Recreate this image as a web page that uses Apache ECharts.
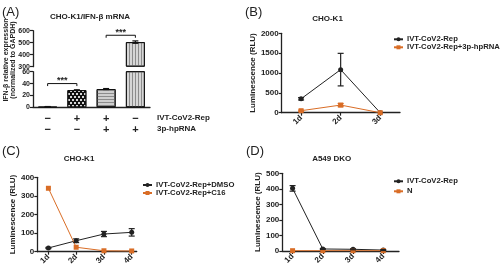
<!DOCTYPE html>
<html>
<head>
<meta charset="utf-8">
<script src="https://cdn.jsdelivr.net/npm/echarts@6/dist/echarts.min.js"></script>
<style>
  html, body { margin: 0; padding: 0; background: #fff; }
  #main { width: 500px; height: 268px; }
</style>
</head>
<body>
<div id="main"></div>
<script>
var FONT = 'Liberation Sans'
var INK = '#222'
var ORANGE = '#d96d26'

// (A) IFN-b mRNA bars
var aGroups = ['g1', 'g2', 'g3', 'g4']
var aSignRep = ['−', '+', '+', '−']
var aSign3p = ['−', '−', '+', '+']
var aValues = [1, 29, 30.8, 505]
var aErrors = [0.3, 0.5, 0.8, 10]
var aSigLevels = [40, 562] // bracket heights (lower grid, upper grid)

// (B) CHO-K1
var bDays = ['1d', '2d', '3d']
var bRep = [350, 1085, 0]
var bRepErr = [30, 410, 0]
var bRep3p = [50, 192, 0]
var bRep3pErr = [15, 40, 0]

// (C) CHO-K1, C16
var cDays = ['1d', '2d', '3d', '4d']
var cDmso = [20, 59, 95, 104]
var cDmsoErr = [3, 10, 14, 20]
var cC16 = [341, 24, 5, 4]

// (D) A549 DKO
var dDays = ['1d', '2d', '3d', '4d']
var dRep = [403, 13, 11, 6]
var dRepErr = [18, 3, 3, 3]
var dN = [2, 2, 2, 2]

var chart = echarts.init(document.getElementById('main'))

var lab = { fontSize: 8, fontWeight: 'bold', fontFamily: FONT, color: INK }

function valAxis (gi, min, max, interval, extra, size) {
  var ax = {
    type: 'value', gridIndex: gi, min: min, max: max, interval: interval,
    splitLine: { show: false },
    axisLine: { show: true, lineStyle: { color: INK, width: 1.3 } },
    axisTick: { show: true, length: 3, lineStyle: { color: INK, width: 1.2 } },
    axisLabel: Object.assign({}, lab, {
      margin: 3, fontSize: size || 8,
      formatter: function (v) { return String(v) }
    })
  }
  return Object.assign(ax, extra || {})
}

function dayAxis (gi, days, min, max) {
  var ticks = days.map(function (d, i) { return i + 1 })
  return {
    type: 'value', gridIndex: gi, min: min, max: max,
    splitLine: { show: false },
    axisLine: { lineStyle: { color: INK, width: 1.3 } },
    axisTick: { customValues: ticks, length: 3, lineStyle: { color: INK, width: 1.2 } },
    axisLabel: Object.assign({
      customValues: ticks, rotate: 45, margin: 4,
      formatter: function (v) { return days[Math.round(v) - 1] || '' }
    }, lab)
  }
}

function lumName (gap) {
  return {
    name: 'Luminescence (RLU)', nameLocation: 'middle', nameRotate: 90, nameGap: gap,
    nameTextStyle: lab
  }
}

function lineSeries (name, gi, vals, color, symbol) {
  return {
    name: name, type: 'line', xAxisIndex: gi, yAxisIndex: gi,
    data: vals.map(function (v, i) { return [i + 1, v] }),
    symbol: symbol, symbolSize: 5, z: 6,
    lineStyle: { color: color, width: 1 },
    itemStyle: { color: color }
  }
}

// x in data is the category index (bars) or the day number (lines)
function errSeries (gi, idx, vals, errs, color, w, base) {
  var data = []
  idx.forEach(function (i) { data.push([i + base, vals[i] - errs[i], vals[i] + errs[i]]) })
  return {
    type: 'custom', xAxisIndex: gi, yAxisIndex: gi, silent: true, z: 7,
    data: data,
    renderItem: function (params, api) {
      var lo = api.coord([api.value(0), api.value(1)])
      var hi = api.coord([api.value(0), api.value(2)])
      var st = { stroke: color, lineWidth: 1.2 }
      return {
        type: 'group',
        children: [
          { type: 'line', shape: { x1: lo[0], y1: lo[1], x2: hi[0], y2: hi[1] }, style: st },
          { type: 'line', shape: { x1: lo[0] - w, y1: lo[1], x2: lo[0] + w, y2: lo[1] }, style: st },
          { type: 'line', shape: { x1: hi[0] - w, y1: hi[1], x2: hi[0] + w, y2: hi[1] }, style: st }
        ]
      }
    }
  }
}

var barStyles = [
  { color: '#111' },
  { color: '#111', decal: { symbol: 'rect', color: '#d8d8d8', symbolSize: 1, dashArrayX: [[1.5, 1.5], [0, 1.5, 1.5, 0]], dashArrayY: [1.5, 0.6] } },
  { color: '#cfcfcf', decal: { symbol: 'rect', color: '#8c8c8c', symbolSize: 1, dashArrayX: [1, 0], dashArrayY: [1, 1.6] } },
  { color: '#d6d6d6', decal: { symbol: 'rect', color: '#8c8c8c', symbolSize: 1, dashArrayX: [1, 1.8], dashArrayY: [1, 0] } }
]

function barData (upper) {
  return aValues.map(function (v, i) {
    var val = upper ? (v > 300 ? v : '-') : v
    return { value: val, itemStyle: Object.assign({ borderColor: '#111', borderWidth: 1 }, barStyles[i]) }
  })
}

function idxWhere (fn) {
  var r = []
  aValues.forEach(function (v, i) { if (fn(v)) r.push(i) })
  return r
}

var legendText = Object.assign({}, lab, { fontSize: 7.7, lineHeight: 8, padding: [0, 0, 0, -1] })

var option = {
  animation: false,
  textStyle: { fontFamily: FONT },
  grid: [
    { left: 33, top: 30.7, width: 117, height: 36 },
    { left: 33, top: 71.7, width: 117, height: 35.6 },
    { left: 281.7, top: 33.3, width: 118.3, height: 79.4 },
    { left: 37.3, top: 177.3, width: 99.4, height: 74.4 },
    { left: 282.3, top: 173.3, width: 116.7, height: 77.7 }
  ],
  xAxis: [
    { type: 'category', gridIndex: 0, data: aGroups, show: false },
    {
      type: 'category', gridIndex: 1, data: aGroups,
      axisLine: { lineStyle: { color: INK, width: 1.3 } },
      axisTick: { show: false },
      axisLabel: {
        margin: 6, fontSize: 11, fontWeight: 'bold', fontFamily: FONT, color: INK, lineHeight: 11,
        formatter: function (v, i) { return aSignRep[i] + '\n' + aSign3p[i] }
      }
    },
    dayAxis(2, bDays, 0.51, 3.5),
    dayAxis(3, cDays, 0.6, 4.18),
    dayAxis(4, dDays, 0.66, 4.52)
  ],
  yAxis: [
    valAxis(0, 300, 600, 100, { startValue: 300 }, 7),
    valAxis(1, 0, 60, 20, null, 7),
    valAxis(2, 0, 2000, 500, lumName(23)),
    valAxis(3, 0, 400, 100, lumName(20)),
    valAxis(4, 0, 500, 100, lumName(18))
  ],
  legend: [
    {
      left: 388, top: 30.3, orient: 'vertical', itemWidth: 9, itemHeight: 5, itemGap: 0,
      textStyle: legendText,
      data: ['IVT-CoV2-Rep', 'IVT-CoV2-Rep+3p-hpRNA']
    },
    {
      left: 137, top: 176, orient: 'vertical', itemWidth: 9, itemHeight: 5, itemGap: 0,
      textStyle: legendText,
      data: ['IVT-CoV2-Rep+DMSO', 'IVT-CoV2-Rep+C16']
    },
    {
      left: 388, top: 172.3, orient: 'vertical', itemWidth: 9, itemHeight: 5, itemGap: 2,
      textStyle: legendText,
      data: ['IVT-CoV2-Rep ', 'N']
    }
  ],
  series: [
    { type: 'bar', xAxisIndex: 0, yAxisIndex: 0, barWidth: 19, clip: true, data: barData(true) },
    { type: 'bar', xAxisIndex: 1, yAxisIndex: 1, barWidth: 19, clip: true, data: barData(false) },
    errSeries(0, idxWhere(function (v) { return v > 300 }), aValues, aErrors, '#111', 3, 0),
    errSeries(1, idxWhere(function (v) { return v <= 60 }), aValues, aErrors, '#111', 3, 0),

    lineSeries('IVT-CoV2-Rep', 2, bRep, INK, 'circle'),
    lineSeries('IVT-CoV2-Rep+3p-hpRNA', 2, bRep3p, ORANGE, 'rect'),
    errSeries(2, [0, 1], bRep, bRepErr, INK, 3, 1),
    errSeries(2, [0, 1], bRep3p, bRep3pErr, ORANGE, 3, 1),

    lineSeries('IVT-CoV2-Rep+DMSO', 3, cDmso, INK, 'circle'),
    lineSeries('IVT-CoV2-Rep+C16', 3, cC16, ORANGE, 'rect'),
    errSeries(3, [0, 1, 2, 3], cDmso, cDmsoErr, INK, 3, 1),

    lineSeries('IVT-CoV2-Rep ', 4, dRep, INK, 'circle'),
    lineSeries('N', 4, dN, ORANGE, 'rect'),
    errSeries(4, [0, 1, 2, 3], dRep, dRepErr, INK, 3, 1)
  ]
}
chart.setOption(option)

// text, brackets and labels
function txt (x, y, text, size, weight, extra) {
  return Object.assign({
    type: 'text', x: x, y: y,
    style: { text: text, fontSize: size, fontWeight: weight, fontFamily: FONT, fill: INK, align: 'left', verticalAlign: 'middle' }
  }, extra || {})
}
function ctxt (x, y, text, size) {
  var t = txt(x, y, text, size, 'bold')
  t.style.align = 'center'
  return t
}

function bracket (gi, i0, i1, level) {
  var p0 = chart.convertToPixel({ xAxisIndex: gi, yAxisIndex: gi }, [aGroups[i0], level])
  var p1 = chart.convertToPixel({ xAxisIndex: gi, yAxisIndex: gi }, [aGroups[i1], level])
  var st = { stroke: '#111', lineWidth: 1, fill: null }
  return [
    { type: 'polyline', shape: { points: [[p0[0], p0[1] + 2.5], [p0[0], p0[1]], [p1[0], p1[1]], [p1[0], p1[1] + 2.5]] }, style: st },
    ctxt((p0[0] + p1[0]) / 2, p0[1] - 3, '***', 9)
  ]
}

var g = [
  txt(2, 12, '(A)', 13, 'normal'),
  txt(245, 12, '(B)', 13, 'normal'),
  txt(2, 151, '(C)', 13, 'normal'),
  txt(246, 151, '(D)', 13, 'normal'),
  ctxt(90, 16.5, 'CHO-K1/IFN-β mRNA', 8),
  ctxt(327.5, 18.5, 'CHO-K1', 8),
  ctxt(79, 159, 'CHO-K1', 8),
  ctxt(331.7, 159, 'A549 DKO', 8),
  Object.assign(ctxt(0, 0, 'IFN-β relative expression', 7), { x: 6.5, y: 60, rotation: Math.PI / 2 }),
  Object.assign(ctxt(0, 0, '(normalized to GAPDH)', 7), { x: 13.3, y: 60, rotation: Math.PI / 2 }),
  txt(157, 117.5, 'IVT-CoV2-Rep', 8, 'bold'),
  txt(157, 128.5, '3p-hpRNA', 8, 'bold')
]
g = g.concat(bracket(1, 0, 1, aSigLevels[0]))
g = g.concat(bracket(0, 2, 3, aSigLevels[1]))
chart.setOption({ graphic: g })
</script>
</body>
</html>
